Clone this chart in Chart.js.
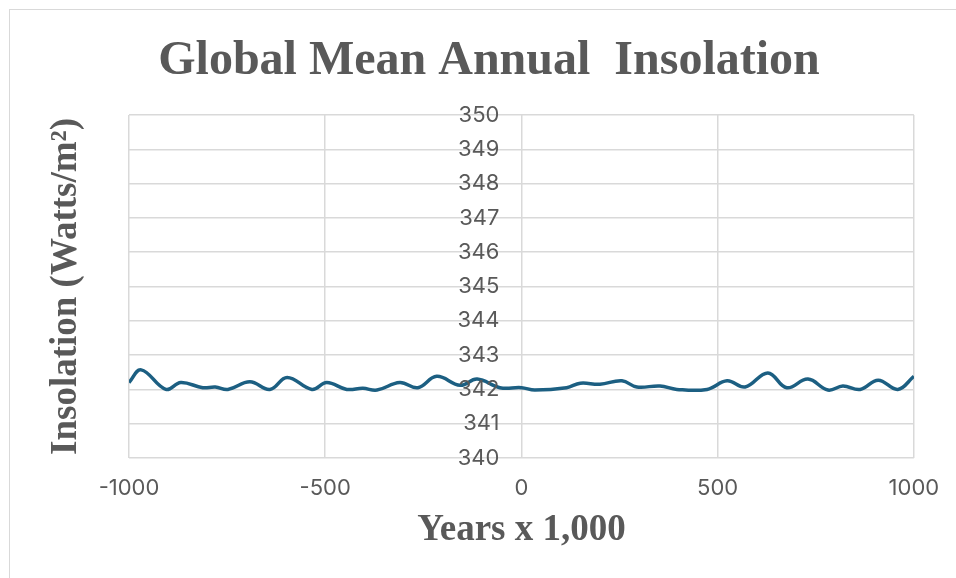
<!DOCTYPE html>
<html>
<head>
<meta charset="utf-8">
<script src="https://cdn.jsdelivr.net/npm/chart.js@4/dist/chart.umd.min.js"></script>
<style>
  html, body { margin: 0; padding: 0; background: #ffffff; }
  #wrap { position: relative; width: 956px; height: 578px; overflow: hidden; }
  #frame { position: absolute; left: 9px; top: 9px; width: 1200px; height: 900px;
           border: 1.5px solid #d9d9d9; box-sizing: border-box; }
  #c { position: absolute; left: 0; top: 0; }
</style>
</head>
<body>
<div id="wrap">
  <div id="frame"></div>
  <canvas id="c" width="956" height="578"></canvas>
</div>
<script>
// Global mean annual insolation over the last and next million years
const years = [-1000, -969, -906, -868, -812, -780, -748, -692, -641, -597, -534, -496,
  -445, -404, -368, -310, -264, -216, -156, -113, -55, 0, 34, 115, 150, 200, 256, 294,
  353, 396, 473, 524, 570, 628, 676, 730, 781, 819, 863, 909, 959, 1000];
const insolation = [342.2, 342.57, 342.0, 342.2, 342.05, 342.07, 342.0, 342.22, 342.0,
  342.35, 342.0, 342.2, 342.0, 342.03, 341.98, 342.2, 342.05, 342.38, 342.12, 342.3,
  342.05, 342.05, 341.98, 342.05, 342.18, 342.15, 342.25, 342.07, 342.1, 342.0, 342.0,
  342.25, 342.07, 342.48, 342.05, 342.3, 341.98, 342.1, 342.0, 342.27, 342.0, 342.38];
const xTickLabels = ['-1000', '-500', '0', '500', '1000'];
const yTickLabels = ['340', '341', '342', '343', '344', '345', '346', '347', '348', '349', '350'];

const chartTitle = 'Global Mean Annual  Insolation';
const xTitle = 'Years x 1,000';
const yTitle = 'Insolation (Watts/m\u00B2)';

const textColor = '#595959';
const gridColor = '#d9d9d9';
const tickFont = { family: 'Inter', size: 22 };
const axisTitleFont = { family: 'Liberation Serif', size: 37, weight: 'bold' };

// Main heading
const headingPlugin = {
  id: 'heading',
  afterDraw(chart) {
    const ctx = chart.ctx;
    ctx.save();
    ctx.fillStyle = textColor;
    ctx.font = 'bold 48px "Liberation Serif"';
    ctx.textAlign = 'center';
    ctx.textBaseline = 'alphabetic';
    ctx.fillText(chartTitle, 489, 74);
    ctx.restore();
  }
};

// Value labels of the y axis, placed beside the vertical axis at x = 0
const centerYLabels = {
  id: 'centerYLabels',
  afterDraw(chart) {
    const ctx = chart.ctx;
    const xs = chart.scales.x, ys = chart.scales.y;
    const xAt = xs.getPixelForValue(0) - 22;
    ctx.save();
    ctx.fillStyle = textColor;
    ctx.font = tickFont.size + 'px ' + tickFont.family;
    ctx.textAlign = 'right';
    ctx.textBaseline = 'middle';
    yTickLabels.forEach(lbl => {
      ctx.fillText(lbl, xAt, ys.getPixelForValue(Number(lbl)));
    });
    ctx.restore();
  }
};

new Chart(document.getElementById('c'), {
  type: 'line',
  data: {
    datasets: [{
      data: years.map((x, i) => ({ x: x, y: insolation[i] })),
      borderColor: '#1c5f82',
      borderWidth: 3.5,
      pointRadius: 0,
      tension: 0.4,
      fill: false
    }]
  },
  options: {
    responsive: false,
    animation: false,
    devicePixelRatio: 1,
    layout: { padding: { top: 115, left: 10, right: 42, bottom: 25 } },
    plugins: {
      legend: { display: false },
      title: { display: false },
      tooltip: { enabled: false }
    },
    scales: {
      x: {
        type: 'linear',
        min: -1000,
        max: 1000,
        border: { display: false },
        grid: { color: gridColor, lineWidth: 1.5, drawTicks: false },
        ticks: {
          stepSize: 500,
          padding: 16.8,
          color: textColor,
          font: tickFont,
          maxRotation: 0,
          callback: (v) => xTickLabels[xTickLabels.indexOf(String(v))] ?? ''
        },
        title: {
          display: true,
          text: xTitle,
          color: textColor,
          font: axisTitleFont,
          padding: { top: -9.4, bottom: 0 }
        }
      },
      y: {
        type: 'linear',
        min: 340,
        max: 350,
        border: { display: false },
        grid: { color: gridColor, lineWidth: 1.5, drawTicks: false },
        ticks: { stepSize: 1, display: false },
        title: {
          display: true,
          text: yTitle,
          color: textColor,
          font: axisTitleFont,
          padding: { top: 33.8, bottom: 40.8 }
        }
      }
    }
  },
  plugins: [headingPlugin, centerYLabels]
});
</script>
</body>
</html>
